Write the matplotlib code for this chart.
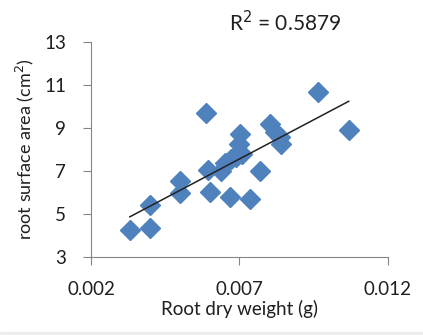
import numpy as np
import matplotlib.pyplot as plt

plt.rcParams['font.family'] = ['Lato', 'DejaVu Sans']

# Root dry weight (g) vs root surface area (cm2)
dry_weight = [0.00331, 0.0040, 0.0040, 0.0050, 0.0050, 0.00589, 0.00601, 0.00594,
              0.00637, 0.00652, 0.00668, 0.0067, 0.00688, 0.0070, 0.0070, 0.00703,
              0.0071, 0.00736, 0.0077, 0.00804, 0.0082, 0.0084, 0.00835, 0.00964, 0.01068]
surface_area = [4.25, 4.35, 5.4, 6.55, 5.95, 9.7, 6.0, 7.05,
                7.0, 7.35, 5.8, 7.55, 7.65, 7.9, 8.25, 8.7,
                7.8, 5.7, 7.0, 9.2, 8.8, 8.25, 8.6, 10.65, 8.9]
r2_text = "R$^{2}$ = 0.5879"

x = np.array(dry_weight)
y = np.array(surface_area)
slope, intercept = np.polyfit(x, y, 1)
xfit = np.array([x.min(), x.max()])

fig = plt.figure(figsize=(4.23, 3.35), dpi=100)
ax = fig.add_axes([0.215, 0.233, 0.702, 0.642])

ax.plot(x, y, linestyle='none', marker='D', markersize=10,
        color='#4F81BD', markeredgecolor='#4F81BD')
ax.plot(xfit, slope * xfit + intercept, color='#222222', linewidth=1.1)

ax.set_xlim(0.002, 0.012)
ax.set_ylim(3, 13)
ax.set_xticks([0.002, 0.007, 0.012])
ax.set_xticklabels(['0.002', '0.007', '0.012'])
ax.set_yticks([3, 5, 7, 9, 11, 13])

for side in ['top', 'right']:
    ax.spines[side].set_visible(False)
for side in ['left', 'bottom']:
    ax.spines[side].set_color('#868686')
ax.tick_params(axis='both', direction='out', length=6, color='#868686',
               labelsize=13.5, labelcolor='#1f1f1f')
ax.tick_params(axis='x', pad=11)
ax.tick_params(axis='y', pad=12)

ax.set_xlabel('Root dry weight (g)', fontsize=13.5, color='#1f1f1f', labelpad=2)
ax.set_ylabel('root surface area (cm$^{2}$)', fontsize=13, color='#1f1f1f', labelpad=6)

fig.text(0.675, 0.932, r2_text, fontsize=15, color='#1f1f1f', ha='center', va='center')

# thin grey strip along the bottom edge
fig.patches.append(plt.Rectangle((0, 0), 1, 0.01, transform=fig.transFigure,
                                 color='#eeeeee', zorder=-1))

fig.savefig('out.png', dpi=100)
